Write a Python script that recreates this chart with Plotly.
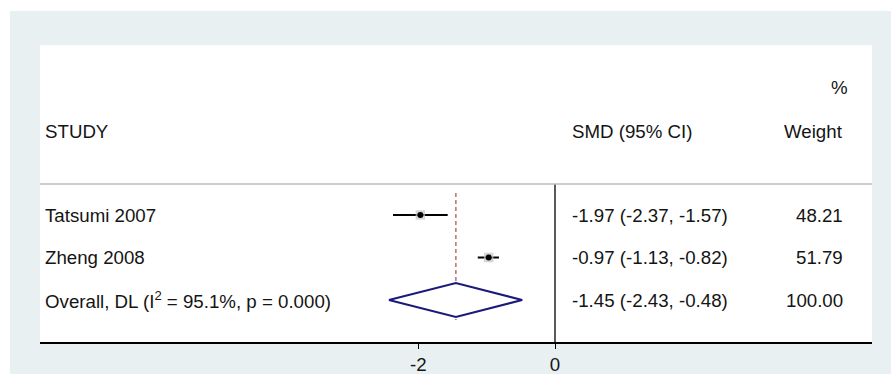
import plotly.graph_objects as go

# Study-level standardized mean differences (random-effects, DerSimonian-Laird)
studies = ["Tatsumi 2007", "Zheng 2008"]
smd = [-1.97, -0.97]
ci_low = [-2.37, -1.13]
ci_high = [-1.57, -0.82]
weights = [48.21, 51.79]

overall_label = "Overall, DL (I<sup>2</sup> = 95.1%, p = 0.000)"
overall_smd = -1.45
overall_low = -2.43
overall_high = -0.48
overall_weight = 100.00

tick_vals = [-2, 0]
tick_text = ["-2", "0"]

FONT = "Liberation Sans, Arial, sans-serif"
FS = 18.7
TXT = "#141414"

# row positions (1 = first study, last = overall)
rows = list(range(1, len(studies) + 1))
overall_row = len(studies) + 1

W, H = 891, 374
L, R, T, B = 40, 19, 45, 32
plot_w = W - L - R
plot_h = H - T - B


def px_x(px):
    return (px - L) / plot_w


def px_y(py):
    return (H - B - py) / plot_h


fig = go.Figure()

# vertical reference line at no effect
fig.add_trace(go.Scatter(x=[0, 0], y=[0.27, 3.99], mode="lines",
                         line=dict(color="#000000", width=1.3),
                         hoverinfo="skip", showlegend=False))

# dashed line at the pooled estimate
fig.add_trace(go.Scatter(x=[overall_smd, overall_smd], y=[0.48, 3.47], mode="lines",
                         line=dict(color="#B5575A", width=1.3, dash="4px,3px"),
                         hoverinfo="skip", showlegend=False))

# confidence intervals
for r, lo, hi in zip(rows, ci_low, ci_high):
    fig.add_trace(go.Scatter(x=[lo, hi], y=[r, r], mode="lines",
                             line=dict(color="#000000", width=2),
                             hoverinfo="skip", showlegend=False))

# weight boxes
fig.add_trace(go.Scatter(x=smd, y=rows, mode="markers",
                         marker=dict(symbol="square", size=[7 + w / 20 for w in weights],
                                     color="#C4C4C4", line=dict(width=0)),
                         hoverinfo="skip", showlegend=False))
# point estimates
fig.add_trace(go.Scatter(x=smd, y=rows, mode="markers",
                         marker=dict(symbol="circle", size=6, color="#000000"),
                         hoverinfo="skip", showlegend=False))

# pooled diamond
half_h = 0.4
fig.add_trace(go.Scatter(
    x=[overall_low, overall_smd, overall_high, overall_smd, overall_low],
    y=[overall_row, overall_row - half_h, overall_row, overall_row + half_h, overall_row],
    mode="lines", fill="toself", fillcolor="#FFFFFF",
    line=dict(color="#1A1A7A", width=2),
    hoverinfo="skip", showlegend=False))

ann = []


def text(x, y, s, anchor="left", yref="y"):
    ann.append(dict(x=x, y=y, xref="paper", yref=yref, text=s, showarrow=False,
                    xanchor=anchor, yanchor="middle",
                    font=dict(family=FONT, size=FS, color=TXT)))


col_study = px_x(43)
col_ci = px_x(570)
col_w = px_x(845)

# headers
text(col_study, -0.976, "STUDY")
text(col_ci, -0.976, "SMD (95% CI)")
text(col_w, -0.976, "Weight", "right")
text(px_x(850), -1.99, "%", "right")

for r, name, e, lo, hi, w in zip(rows, studies, smd, ci_low, ci_high, weights):
    text(col_study, r, name)
    text(col_ci, r, f"{e:.2f} ({lo:.2f}, {hi:.2f})")
    text(col_w, r, f"{w:.2f}", "right")

text(col_study, overall_row, overall_label)
text(col_ci, overall_row, f"{overall_smd:.2f} ({overall_low:.2f}, {overall_high:.2f})")
text(col_w, overall_row, f"{overall_weight:.2f}", "right")

shapes = [
    # outer graph region
    dict(type="rect", xref="paper", yref="paper",
         x0=px_x(10), x1=px_x(W + 5), y0=px_y(H + 5), y1=px_y(11),
         fillcolor="#E8F0F2", line=dict(width=0), layer="below"),
    # inner plot region
    dict(type="rect", xref="paper", yref="paper",
         x0=0, x1=1, y0=0, y1=px_y(T),
         fillcolor="#FFFFFF", line=dict(width=0), layer="below"),
    # separator under the header
    dict(type="line", xref="paper", yref="y", x0=0, x1=1, y0=0.27, y1=0.27,
         line=dict(color="#BDBDBD", width=1.5)),
]

fig.update_layout(
    width=W, height=H,
    margin=dict(l=L, r=R, t=T, b=B, pad=0, autoexpand=False),
    paper_bgcolor="#FFFFFF",
    plot_bgcolor="#FFFFFF",
    showlegend=False,
    annotations=ann,
    shapes=shapes,
    xaxis=dict(range=[(L - 555) / 68.35, (W - R - 555) / 68.35],
               tickvals=tick_vals, ticktext=tick_text,
               ticks="outside", ticklen=5, tickwidth=1.3, tickcolor="#000000",
               showline=True, linecolor="#000000", linewidth=1.5,
               showgrid=False, zeroline=False, automargin=False,
               tickfont=dict(family=FONT, size=FS, color=TXT)),
    yaxis=dict(range=[3.988, -3.0], showgrid=False, zeroline=False,
               showticklabels=False, ticks="", showline=False, automargin=False),
)

fig.write_html("out.html")
